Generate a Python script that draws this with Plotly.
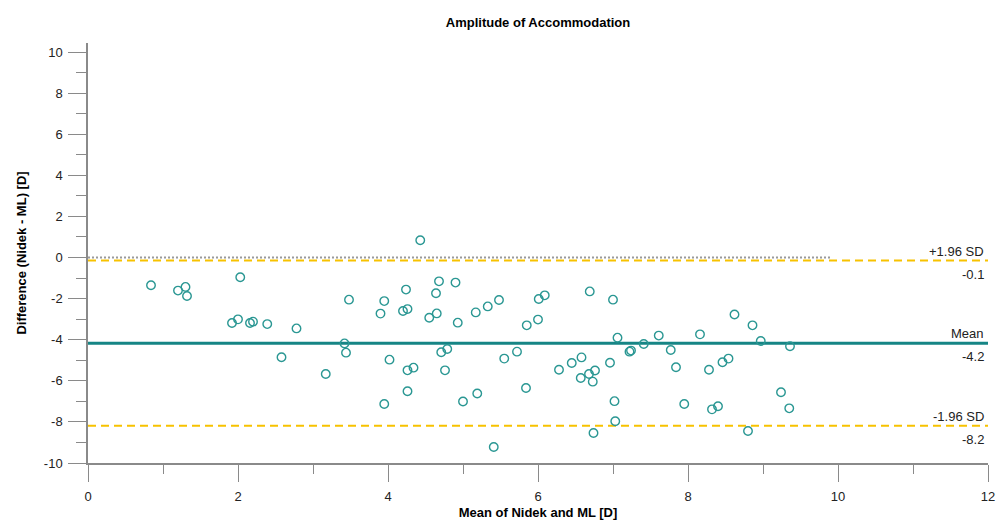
import plotly.graph_objects as go

# Bland-Altman data: mean of methods (x) and difference (y)
mean_vals = [
    0.84, 1.20, 1.30, 1.32, 2.03, 1.92, 2.00, 2.16, 2.20, 2.39, 2.78, 2.58, 3.17,
    4.43, 3.48, 3.42, 3.44, 3.95, 3.90, 4.24, 4.20, 4.26, 4.68, 4.64, 4.90, 4.55,
    4.65, 4.93, 5.17, 5.33, 5.48, 5.85, 4.02, 4.26, 4.34, 4.26, 3.95, 4.71, 4.79,
    4.76, 5.00, 5.19, 5.72, 5.55, 5.84, 5.41,
    6.01, 6.09, 6.00, 6.69, 7.00, 7.06, 7.41, 7.61, 8.16, 7.22, 7.24, 7.77, 6.28,
    6.45, 6.58, 6.57, 6.68, 6.76, 6.73, 6.96, 7.84, 8.28, 8.46, 8.54, 7.02, 7.03,
    6.74, 7.95, 8.32, 8.40,
    8.62, 8.86, 8.97, 9.36, 9.24, 9.35, 8.80,
]
diff_vals = [
    -1.35, -1.61, -1.43, -1.87, -0.96, -3.19, -3.01, -3.19, -3.12, -3.24, -3.45, -4.85, -5.67,
    0.84, -2.05, -4.18, -4.63, -2.12, -2.73, -1.56, -2.60, -2.51, -1.16, -1.74, -1.22, -2.93,
    -2.72, -3.17, -2.67, -2.38, -2.07, -3.30, -4.97, -5.49, -5.36, -6.51, -7.13, -4.61, -4.45,
    -5.49, -7.01, -6.62, -4.58, -4.92, -6.35, -9.22,
    -2.02, -1.84, -3.02, -1.65, -2.05, -3.90, -4.21, -3.80, -3.74, -4.58, -4.53, -4.50, -5.46,
    -5.13, -4.86, -5.86, -5.67, -5.50, -6.04, -5.12, -5.34, -5.46, -5.10, -4.92, -6.99, -7.97,
    -8.54, -7.13, -7.39, -7.24,
    -2.77, -3.30, -4.06, -4.32, -6.56, -7.34, -8.44,
]

mean_diff = -4.17
upper_loa = -0.15
lower_loa = -8.19
zero_line_end = 9.9

x_range = [0, 12]
y_range = [-10, 10.44]
x_ticks = [0, 2, 4, 6, 8, 10, 12]
x_tick_text = ["0", "2", "4", "6", "8", "10", "12"]
y_ticks = [-10, -8, -6, -4, -2, 0, 2, 4, 6, 8, 10]
y_tick_text = ["-10", "-8", "-6", "-4", "-2", "0", "2", "4", "6", "8", "10"]

TEAL = "#168585"
MARK = "#2a9793"
GOLD = "#f7c200"
AXIS = "#8a8a8a"
FONT = "Liberation Sans, Arial, sans-serif"

fig = go.Figure()

# zero reference (dotted gray)
fig.add_trace(go.Scatter(x=[0, zero_line_end], y=[0, 0], mode="lines",
                         line=dict(color="#9a9a9a", width=2.2, dash="2px,2px"),
                         hoverinfo="skip", showlegend=False))
# limits of agreement
for v in (upper_loa, lower_loa):
    fig.add_trace(go.Scatter(x=x_range, y=[v, v], mode="lines",
                             line=dict(color=GOLD, width=2, dash="8px,5px"),
                             hoverinfo="skip", showlegend=False))
# mean line
fig.add_trace(go.Scatter(x=x_range, y=[mean_diff, mean_diff], mode="lines",
                         line=dict(color=TEAL, width=3),
                         hoverinfo="skip", showlegend=False))
# data points
fig.add_trace(go.Scatter(x=mean_vals, y=diff_vals, mode="markers",
                         marker=dict(symbol="circle-open", size=8.5,
                                     color=MARK, line=dict(width=1.4, color=MARK)),
                         showlegend=False))

labels = [
    (upper_loa, "+1.96 SD", "-0.1"),
    (mean_diff, "Mean", "-4.2"),
    (lower_loa, "-1.96 SD", "-8.2"),
]
for v, above, below in labels:
    fig.add_annotation(x=12, y=v, xref="x", yref="y", text=above, showarrow=False,
                       xanchor="right", yanchor="bottom", xshift=-2, yshift=0,
                       font=dict(family=FONT, size=13, color="#222"))
    fig.add_annotation(x=12, y=v, xref="x", yref="y", text=below, showarrow=False,
                       xanchor="right", yanchor="top", xshift=-2, yshift=-4,
                       font=dict(family=FONT, size=13, color="#222"))

fig.update_layout(
    width=1006, height=523,
    margin=dict(l=88, r=18, t=43, b=60),
    paper_bgcolor="white", plot_bgcolor="white",
    font=dict(family=FONT, size=13, color="#222"),
    title=dict(text="<b>Amplitude of Accommodation</b>", x=0.5348, xanchor="center",
               y=1 - 22 / 523, yanchor="middle",
               font=dict(family=FONT, size=13, color="#000")),
    showlegend=False,
)
fig.update_xaxes(
    range=x_range, tickvals=x_ticks, ticktext=x_tick_text, ticks="outside", ticklen=17,
    tickwidth=1, tickcolor=AXIS, showline=True, linecolor=AXIS, linewidth=1.5,
    showgrid=False, zeroline=False, automargin=False, ticklabelstandoff=4,
    tickfont=dict(family=FONT, size=13, color="#222"),
    minor=dict(dtick=1, tick0=0, ticks="outside", ticklen=9, tickcolor=AXIS, showgrid=False),
    title=dict(text="<b>Mean of Nidek and ML [D]</b>", standoff=5,
               font=dict(family=FONT, size=13, color="#000")),
)
fig.update_yaxes(
    range=y_range, tickvals=y_ticks, ticktext=y_tick_text, ticks="outside", ticklen=18,
    tickwidth=1, tickcolor=AXIS, showline=True, linecolor=AXIS, linewidth=1.5,
    showgrid=False, zeroline=False, automargin=False, ticklabelstandoff=3,
    tickfont=dict(family=FONT, size=13, color="#222"),
    minor=dict(dtick=1, tick0=0, ticks="outside", ticklen=10, tickcolor=AXIS, showgrid=False),
    title=dict(text="<b>Difference (Nidek - ML) [D]</b>", standoff=14,
               font=dict(family=FONT, size=13, color="#000")),
)

fig.write_html("out.html")
